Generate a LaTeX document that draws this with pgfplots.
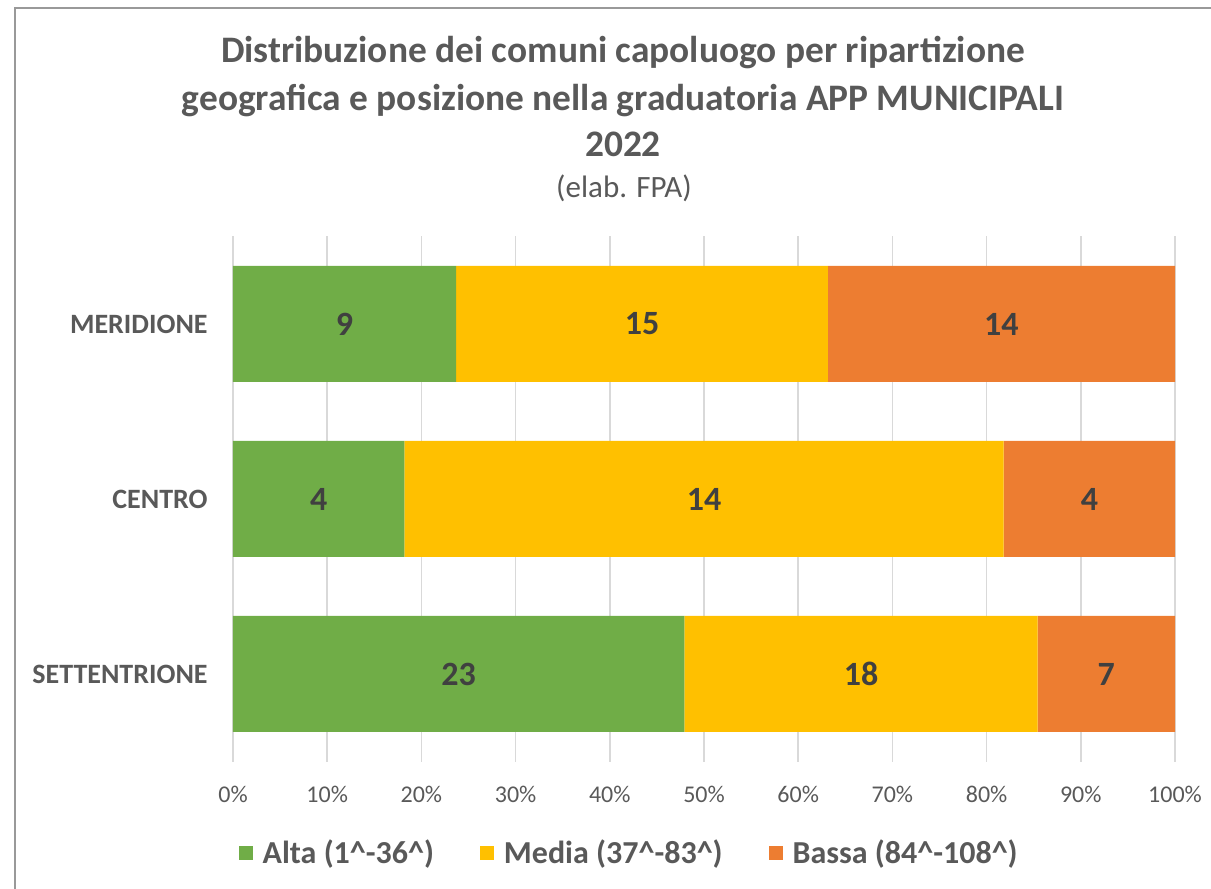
\documentclass[border=0pt]{standalone}
\usepackage{pgfplots}
\pgfplotsset{compat=1.18}
\usepackage{pgfplotstable}
\usepackage{fontspec}
\setmainfont{Carlito}
\definecolor{cgreen}{HTML}{70AD47}
\definecolor{cyellow}{HTML}{FFC000}
\definecolor{corange}{HTML}{ED7D31}
\definecolor{txt}{HTML}{595959}
\definecolor{lbl}{HTML}{404040}
\definecolor{gridc}{HTML}{D9D9D9}
% y: 0 = SETTENTRIONE, 1 = CENTRO, 2 = MERIDIONE; pct = share of row; n = count
\pgfplotstableread{
y pct n
0 47.917 23
1 18.182 4
2 23.684 9
}\alta
\pgfplotstableread{
y pct n
0 37.500 18
1 63.636 14
2 39.474 15
}\media
\pgfplotstableread{
y pct n
0 14.583 7
1 18.182 4
2 36.842 14
}\bassa
\pgfplotsset{myleg/.style={legend image code/.code={\fill[##1] (0pt,-3.5pt) rectangle (7pt,3.5pt); \path (10pt,0pt);}}}
\begin{document}
\begin{tikzpicture}
\useasboundingbox (0,0) rectangle (605.5pt,444.5pt);
\draw[color=black!40, line width=1pt] (7.5pt,0) -- (7.5pt,440.25pt) -- (605.5pt,440.25pt);
\node[anchor=base, font=\bfseries\fontsize{18.7}{22}\selectfont, text=txt] at (311.5pt,413pt) {Distribuzione dei comuni capoluogo per ripartizione};
\node[anchor=base, font=\bfseries\fontsize{18.7}{22}\selectfont, text=txt] at (311.5pt,389pt) {geografica e posizione nella graduatoria APP MUNICIPALI};
\node[anchor=base, font=\bfseries\fontsize{18.7}{22}\selectfont, text=txt] at (311.5pt,366pt) {2022};
\node[anchor=base, font=\fontsize{15.5}{18}\selectfont, text=txt] at (312pt,345.5pt) {(elab. FPA)};
\begin{axis}[
  at={(116.5pt,63.75pt)}, anchor=south west,
  scale only axis, width=471pt, height=262.5pt,
  xbar stacked, bar width=58pt,
  xmin=0, xmax=100, ymin=-0.5, ymax=2.5,
  axis line style={draw=none},
  xmajorgrids, grid style={color=gridc, line width=0.75pt},
  xtick={0,10,...,100}, xticklabel={\pgfmathprintnumber{\tick}\%},
  ytick={0,1,2}, yticklabels={SETTENTRIONE,CENTRO,MERIDIONE},
  major tick length=0pt,
  /pgf/number format/assume math mode=true,
  yticklabel style={font=\bfseries\fontsize{14}{16}\selectfont, text=txt, inner sep=0pt, xshift=-12.5pt},
  xticklabel style={font=\fontsize{12}{14}\selectfont, text=txt, inner sep=0pt, yshift=-12pt},
  nodes near coords, point meta=explicit,
  every node near coord/.append style={anchor=center, font=\bfseries\fontsize{17}{20}\selectfont, text=lbl},
  legend style={at={(0.4216,-0.174)}, anchor=center, draw=none, fill=none, legend columns=3,
    font=\bfseries\fontsize{16}{18}\selectfont, text=txt,
    /tikz/every even column/.append style={column sep=21pt}},
]
\addplot[fill=cgreen, draw=none, myleg] table[x=pct, y=y, meta=n] {\alta};
\addplot[fill=cyellow, draw=none, myleg] table[x=pct, y=y, meta=n] {\media};
\addplot[fill=corange, draw=none, myleg] table[x=pct, y=y, meta=n] {\bassa};
\legend{Alta (1\textasciicircum-36\textasciicircum), Media (37\textasciicircum-83\textasciicircum), Bassa (84\textasciicircum-108\textasciicircum)}
\end{axis}
\end{tikzpicture}
\end{document}
